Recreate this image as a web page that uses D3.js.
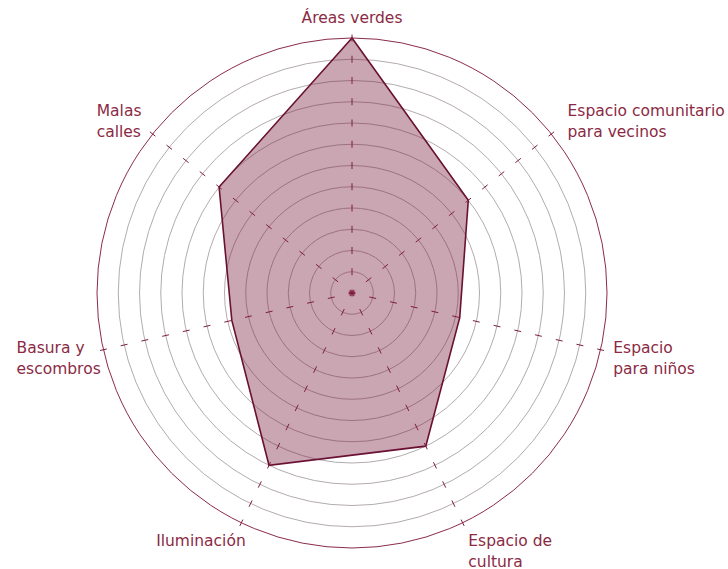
<!DOCTYPE html>
<html>
<head>
<meta charset="utf-8">
<script src="https://cdn.jsdelivr.net/npm/d3@7"></script>
<style>
  body { margin: 0; background: #fff; }
  svg { display: block; }
</style>
</head>
<body>
<script>
// Categories, clockwise from the top
const categories = [
    "Áreas verdes",
    "Espacio comunitario\npara vecinos",
    "Espacio\npara niños",
    "Espacio de\ncultura",
    "Iluminación",
    "Basura y\nescombros",
    "Malas\ncalles"
];
const values = [12, 7, 5.2, 8, 9, 5.8, 8];
const ringLevels = d3.range(1, 13); // 12 rings
const maxValue = 12;

const width = 728, height = 569;
const cx = 352, cy = 293, outerR = 255;
const labelR = 268;
const mainColor = "#7b1d3f";

const svg = d3.select("body")
              .append("svg")
              .attr("width", width)
              .attr("height", height);

const g = svg.append("g")
             .attr("transform", `translate(${cx},${cy})`);

// Scales
const r = d3.scaleLinear()
            .domain([0, maxValue])
            .range([0, outerR]);

const angle = d3.scaleLinear()
                .domain([0, categories.length])
                .range([0, 2 * Math.PI]);

// Grid rings
g.selectAll(".ring")
 .data(ringLevels)
 .enter()
 .append("circle")
 .attr("class", "ring")
 .attr("r", d => r(d))
 .attr("fill", "none")
 .attr("stroke", d => d === maxValue ? "#8a2c4a" : "#b3abae")
 .attr("stroke-width", 1);

// Data polygon
const radial = d3.lineRadial()
                 .angle((d, i) => angle(i))
                 .radius(d => r(d))
                 .curve(d3.curveLinearClosed);

g.append("path")
 .datum(values)
 .attr("d", radial)
 .attr("fill", mainColor)
 .attr("fill-opacity", 0.4)
 .attr("stroke", "#6a1032")
 .attr("stroke-width", 1.6)
 .attr("stroke-linejoin", "miter");

// Axis tick marks: short dashes along each axis at every ring
const tickLen = 3.5;
const ticks = [];
categories.forEach((c, i) => {
    [0].concat(ringLevels).forEach(lv => ticks.push({ i: i, lv: lv }));
});

g.selectAll(".tick")
 .data(ticks)
 .enter()
 .append("line")
 .attr("class", "tick")
 .attr("x1", d => Math.sin(angle(d.i)) * (r(d.lv) - tickLen))
 .attr("y1", d => -Math.cos(angle(d.i)) * (r(d.lv) - tickLen))
 .attr("x2", d => Math.sin(angle(d.i)) * (r(d.lv) + tickLen))
 .attr("y2", d => -Math.cos(angle(d.i)) * (r(d.lv) + tickLen))
 .attr("stroke", "#7e1c40")
 .attr("stroke-width", 1);

// Labels
const lineH = 21;
const labels = g.selectAll(".label")
                .data(categories)
                .enter()
                .append("text")
                .attr("class", "label")
                .style("font-family", "'DejaVu Sans', sans-serif")
                .style("font-size", "15.5px")
                .attr("fill", "#8b2a44");

labels.each(function(d, i) {
    const t = d3.select(this);
    const lines = d.split("\n");
    lines.forEach((ln, k) => {
        t.append("tspan").attr("x", 0).attr("dy", k === 0 ? 0 : lineH).text(ln);
    });
    const bb = this.getBBox();
    const a = angle(i);
    const px = Math.sin(a) * labelR, py = -Math.cos(a) * labelR;
    const s = Math.sin(a), c = Math.cos(a);
    let x0;
    if (s > 0.1) x0 = px + (c > 0 ? 6 : 0);
    else if (s < -0.1) x0 = px - bb.width + (c > 0 ? -1 : 10);
    else x0 = px - bb.width / 2;
    let y0;
    if (c > 0.95) y0 = py - bb.height + 2;
    else if (c < -0.8) y0 = py - 2;
    else y0 = py - bb.height * (0.42 + 0.3 * c);
    t.attr("transform", `translate(${x0 - bb.x},${y0 - bb.y})`);
});
</script>
</body>
</html>
